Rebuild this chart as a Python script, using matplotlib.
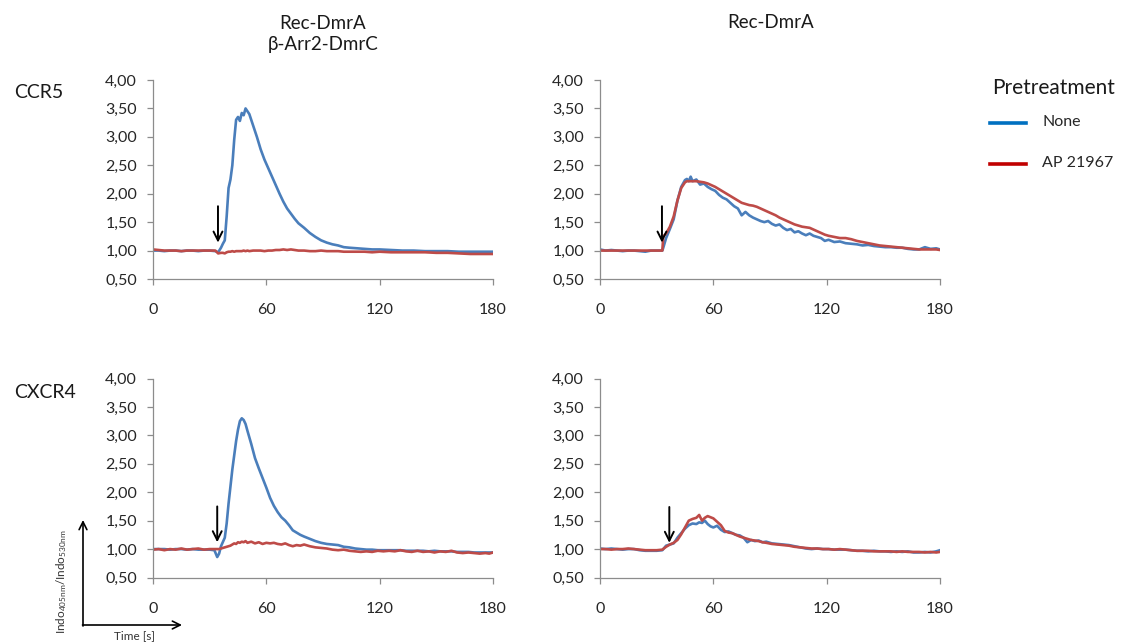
import matplotlib
matplotlib.use("Agg")
import matplotlib.pyplot as plt
from matplotlib.ticker import FuncFormatter

plt.rcParams['font.family'] = ['Lato', 'DejaVu Sans']
plt.rcParams['mathtext.default'] = 'regular'

W, H = 1124, 644

# time [s] and Indo ratio, one set per panel
t_ccr5_a = [0, 3, 6, 9, 12, 15, 18, 21, 24, 27, 30, 33,
            34.5, 36, 37, 38, 39, 40, 41, 42, 43, 44, 45, 46, 47, 48, 49, 50, 51,
            53, 55, 57, 59, 61, 63, 65, 67, 69, 71, 73, 75, 77,
            80, 83, 86, 89, 92, 95, 98, 101, 104,
            108, 112, 116, 120,
            126, 132, 138, 144, 150, 156, 162, 168, 174, 180]
none_ccr5_a = [1.00, 1.00, 0.99, 1.00, 1.00, 0.99, 1.00, 1.00, 0.99, 1.00, 1.00, 0.99,
               0.97, 1.05, 1.12, 1.18, 1.60, 2.10, 2.25, 2.50, 2.95, 3.30, 3.35, 3.28, 3.42, 3.38, 3.50, 3.45, 3.40,
               3.20, 3.00, 2.78, 2.60, 2.45, 2.30, 2.15, 2.00, 1.86, 1.74, 1.65, 1.56, 1.48,
               1.40, 1.31, 1.24, 1.18, 1.14, 1.11, 1.09, 1.06, 1.05,
               1.04, 1.03, 1.02, 1.02,
               1.01, 1.00, 1.00, 0.99, 0.99, 0.99, 0.98, 0.98, 0.98, 0.98]
ap_ccr5_a = [1.02, 1.01, 1.00, 1.00, 1.00, 0.99, 1.00, 1.00, 1.00, 1.00, 1.00, 1.00,
             0.95, 0.96, 0.96, 0.95, 0.97, 0.98, 0.98, 0.99, 0.98, 0.99, 0.99, 0.99, 0.99, 1.00, 0.99, 1.00, 0.99,
             1.00, 1.00, 1.00, 0.99, 1.00, 1.00, 1.01, 1.01, 1.02, 1.01, 1.02, 1.01, 1.00,
             1.00, 0.99, 0.99, 1.00, 0.99, 0.99, 0.99, 0.98, 0.98,
             0.98, 0.98, 0.97, 0.98,
             0.97, 0.97, 0.97, 0.97, 0.96, 0.96, 0.95, 0.94, 0.94, 0.94]

t_ccr5_b = [0, 3, 6, 9, 12, 15, 18, 21, 24, 27, 30, 33,
            33.5, 35, 37, 39, 41, 43, 45, 46, 47, 48, 49,
            51, 53, 55, 57, 59, 61, 63, 65, 67, 69, 71, 73, 75, 77, 79, 81, 83, 85,
            87, 89, 91, 93, 95, 97, 99, 101, 103, 105, 107, 109, 111, 113, 115, 117, 119, 121,
            124, 127, 130, 133, 136, 139, 142, 145, 148, 151, 154, 157, 160, 163, 166, 169,
            172, 175, 178, 180]
none_ccr5_b = [1.02, 1.00, 1.01, 1.00, 0.99, 1.00, 1.00, 0.99, 0.98, 1.00, 1.00, 1.00,
               1.05, 1.22, 1.38, 1.55, 1.88, 2.12, 2.24, 2.26, 2.22, 2.30, 2.22,
               2.25, 2.16, 2.18, 2.12, 2.08, 2.05, 1.98, 1.93, 1.90, 1.84, 1.78, 1.74, 1.62, 1.68, 1.62, 1.58, 1.55, 1.52,
               1.50, 1.52, 1.47, 1.44, 1.46, 1.40, 1.36, 1.38, 1.32, 1.34, 1.30, 1.27, 1.30, 1.26, 1.24, 1.22, 1.17, 1.19,
               1.15, 1.16, 1.13, 1.12, 1.11, 1.09, 1.10, 1.08, 1.07, 1.06, 1.06, 1.05, 1.05, 1.03, 1.02, 1.02,
               1.06, 1.03, 1.04, 1.02]
ap_ccr5_b = [1.00, 1.00, 1.00, 1.00, 1.00, 1.00, 1.00, 1.00, 1.00, 1.00, 1.00, 1.00,
             1.25, 1.30, 1.42, 1.60, 1.88, 2.10, 2.20, 2.22, 2.22, 2.22, 2.22,
             2.22, 2.21, 2.20, 2.18, 2.15, 2.12, 2.08, 2.04, 2.00, 1.96, 1.92, 1.88, 1.84, 1.82, 1.80, 1.79, 1.77, 1.74,
             1.71, 1.68, 1.65, 1.62, 1.58, 1.55, 1.52, 1.49, 1.46, 1.44, 1.42, 1.41, 1.40, 1.37, 1.34, 1.31, 1.28, 1.26,
             1.24, 1.22, 1.22, 1.20, 1.17, 1.15, 1.13, 1.11, 1.09, 1.08, 1.07, 1.06, 1.05, 1.04, 1.03, 1.02,
             1.02, 1.02, 1.02, 1.01]

t_cxcr4_a = [0, 3, 6, 9, 12, 15, 18, 21, 24, 27, 30,
             32.5, 34, 35, 36, 38, 39, 40, 41, 42, 43, 44, 45, 46, 47, 48, 49, 50,
             52, 54, 56, 58, 60, 62, 64, 66, 68, 70, 72, 74, 76, 78, 80,
             83, 86, 89, 92, 95, 98, 101, 104, 107, 110, 113, 116, 119, 122, 125, 128,
             131, 134, 137, 140, 143, 146, 149, 152, 155, 158, 161, 164, 167, 170, 173, 176,
             178, 180]
none_cxcr4_a = [1.00, 1.00, 1.00, 0.99, 1.00, 1.00, 0.99, 1.00, 0.99, 0.99, 0.99,
                0.98, 0.86, 0.92, 1.05, 1.20, 1.45, 1.80, 2.10, 2.40, 2.65, 2.90, 3.10, 3.25, 3.30, 3.27, 3.20, 3.08,
                2.85, 2.60, 2.42, 2.25, 2.08, 1.90, 1.76, 1.65, 1.56, 1.50, 1.42, 1.33, 1.29, 1.25, 1.22,
                1.18, 1.14, 1.11, 1.09, 1.08, 1.07, 1.04, 1.03, 1.01, 1.00, 0.99, 0.99, 0.98, 0.98, 0.98, 0.98,
                0.98, 0.97, 0.97, 0.97, 0.97, 0.96, 0.97, 0.96, 0.96, 0.96, 0.95, 0.95, 0.95, 0.94, 0.94, 0.94,
                0.94, 0.94]
ap_cxcr4_a = [0.99, 1.00, 0.98, 1.00, 0.99, 1.01, 0.99, 1.00, 1.01, 0.99, 1.00,
              1.00, 1.00, 1.00, 1.01, 1.03, 1.04, 1.05, 1.06, 1.08, 1.10, 1.09, 1.12, 1.11, 1.13, 1.12, 1.14, 1.11,
              1.13, 1.10, 1.12, 1.09, 1.11, 1.10, 1.11, 1.09, 1.08, 1.10, 1.07, 1.05, 1.07, 1.06, 1.08,
              1.05, 1.03, 1.02, 1.01, 0.99, 0.98, 0.99, 0.97, 0.96, 0.95, 0.96, 0.95, 0.97, 0.96, 0.97, 0.96,
              0.98, 0.96, 0.95, 0.97, 0.95, 0.96, 0.94, 0.96, 0.95, 0.97, 0.94, 0.93, 0.94, 0.93, 0.92, 0.93,
              0.92, 0.94]

t_cxcr4_b = [0, 3, 6, 9, 12, 15, 18, 21, 24, 27, 30, 33,
             35, 37, 39, 41, 43, 45, 47, 49, 51,
             52.5, 54, 55.5, 57, 58.5,
             60, 62, 64, 66, 68, 70, 72, 74, 76, 78, 80, 82, 84, 86, 88,
             91, 94, 97, 100, 103, 106, 109, 112, 115, 118, 121, 124, 127, 130, 133,
             136, 139, 142, 145, 148, 151, 154, 157, 160, 163, 166, 169, 172, 175, 178,
             180]
none_cxcr4_b = [1.01, 1.00, 1.01, 1.00, 0.99, 1.00, 1.00, 0.98, 0.97, 0.97, 0.97, 0.98,
                1.06, 1.08, 1.10, 1.20, 1.28, 1.36, 1.42, 1.45, 1.44,
                1.47, 1.46, 1.50, 1.44, 1.40,
                1.38, 1.41, 1.34, 1.30, 1.31, 1.28, 1.25, 1.24, 1.20, 1.12, 1.16, 1.14, 1.15, 1.12, 1.13,
                1.10, 1.09, 1.08, 1.07, 1.05, 1.03, 1.01, 1.00, 1.01, 1.00, 1.00, 0.99, 0.99, 0.99, 0.98,
                0.97, 0.97, 0.96, 0.97, 0.96, 0.96, 0.95, 0.96, 0.95, 0.96, 0.94, 0.94, 0.95, 0.94, 0.96,
                0.98]
ap_cxcr4_b = [1.00, 1.00, 0.99, 1.00, 1.00, 1.01, 1.00, 0.99, 0.98, 0.98, 0.98, 0.99,
              1.04, 1.08, 1.11, 1.16, 1.26, 1.38, 1.50, 1.53, 1.55,
              1.60, 1.50, 1.55, 1.58, 1.56,
              1.54, 1.48, 1.42, 1.32, 1.29, 1.28, 1.25, 1.22, 1.20, 1.18, 1.16, 1.15, 1.14, 1.12, 1.11,
              1.09, 1.08, 1.07, 1.06, 1.04, 1.03, 1.02, 1.01, 1.01, 1.00, 1.00, 0.99, 1.00, 0.99, 0.98,
              0.97, 0.97, 0.97, 0.96, 0.96, 0.96, 0.96, 0.95, 0.96, 0.95, 0.95, 0.95, 0.94, 0.95, 0.94,
              0.95]

# stimulus arrow per panel: time, top value, tip value
stim_t = [34.4, 32.8, 34.0, 36.7]
stim_top = [1.78, 1.78, 1.75, 1.74]
stim_tip = [1.14, 1.14, 1.12, 1.11]

col_titles = ['Rec-DmrA\nβ-Arr2-DmrC', 'Rec-DmrA']
row_titles = ['CCR5', 'CXCR4']
series_names = ['None', 'AP 21967']
x_ticks = [0, 60, 120, 180]
y_ticks = [0.5, 1.0, 1.5, 2.0, 2.5, 3.0, 3.5, 4.0]

blue = '#4a7ebb'
red = '#be4b48'
grey = '#8c8c8c'

fig = plt.figure(figsize=(W / 100, H / 100), dpi=100)

panels = [
    (t_ccr5_a, none_ccr5_a, ap_ccr5_a),
    (t_ccr5_b, none_ccr5_b, ap_ccr5_b),
    (t_cxcr4_a, none_cxcr4_a, ap_cxcr4_a),
    (t_cxcr4_b, none_cxcr4_b, ap_cxcr4_b),
]
lefts = [153, 600]
bottoms = [279, 577.5]
comma = FuncFormatter(lambda v, p: f'{v:.2f}'.replace('.', ','))

axes = []
for i, (t, none, ap) in enumerate(panels):
    r, c = divmod(i, 2)
    ax = fig.add_axes([lefts[c] / W, 1 - bottoms[r] / H, 340 / W, 199 / H])
    ax.plot(t, none, color=blue, lw=1.9, solid_joinstyle='round')
    ax.plot(t, ap, color=red, lw=1.9, solid_joinstyle='round')
    ax.annotate('', xy=(stim_t[i], stim_tip[i]), xytext=(stim_t[i], stim_top[i]),
                arrowprops=dict(arrowstyle='->', lw=1.4, color='black', mutation_scale=16,
                                shrinkA=0, shrinkB=0))
    ax.set_xlim(0, 180)
    ax.set_ylim(0.5, 4.0)
    ax.set_xticks(x_ticks)
    ax.set_yticks(y_ticks)
    ax.yaxis.set_major_formatter(comma)
    for s in ['top', 'right']:
        ax.spines[s].set_visible(False)
    for s in ['left', 'bottom']:
        ax.spines[s].set_color(grey)
        ax.spines[s].set_linewidth(0.9)
    ax.tick_params(axis='both', color=grey, width=0.9, length=4.5, labelsize=11.5,
                   labelcolor='#262626')
    ax.tick_params(axis='x', pad=13)
    ax.tick_params(axis='y', pad=7)
    axes.append(ax)

# column and row headings
fig.text(323 / W, 1 - 34 / H, col_titles[0], ha='center', va='center', fontsize=13.5,
         linespacing=1.25, color='#1a1a1a')
fig.text(771 / W, 1 - 22 / H, col_titles[1], ha='center', va='center', fontsize=13.5,
         color='#1a1a1a')
fig.text(14 / W, 1 - 93 / H, row_titles[0], ha='left', va='center', fontsize=14, color='#1a1a1a')
fig.text(14 / W, 1 - 392 / H, row_titles[1], ha='left', va='center', fontsize=14, color='#1a1a1a')

# legend drawn by hand
fig.text(992 / W, 1 - 88 / H, 'Pretreatment', ha='left', va='center', fontsize=15, color='#1a1a1a')
for yy, col, name in [(123, '#0070c0', series_names[0]), (164, '#c00000', series_names[1])]:
    fig.add_artist(plt.Line2D([990 / W, 1026 / W], [1 - yy / H, 1 - yy / H], color=col, lw=2.6,
                              transform=fig.transFigure))
    fig.text(1042 / W, 1 - (yy - 1) / H, name, ha='left', va='center', fontsize=11.5, color='#262626')

# axis key in the corner
ax0 = axes[2]
ax0.annotate('', xy=(83 / W, 1 - 520 / H), xytext=(83 / W, 1 - 626 / H), xycoords='figure fraction',
             arrowprops=dict(arrowstyle='->', lw=1.2, color='black', mutation_scale=14,
                             shrinkA=0, shrinkB=0), annotation_clip=False)
ax0.annotate('', xy=(182 / W, 1 - 625 / H), xytext=(82.5 / W, 1 - 625 / H), xycoords='figure fraction',
             arrowprops=dict(arrowstyle='->', lw=1.2, color='black', mutation_scale=14,
                             shrinkA=0, shrinkB=0), annotation_clip=False)
fig.text(134 / W, 1 - 636 / H, 'Time [s]', ha='center', va='center', fontsize=8.5, color='#333333')
fig.text(62 / W, 1 - 582 / H, r'Indo$_{405nm}$/Indo$_{530nm}$', ha='center', va='center',
         rotation=90, fontsize=8.5, color='#333333')

fig.savefig('out.png', dpi=100, facecolor='white')
